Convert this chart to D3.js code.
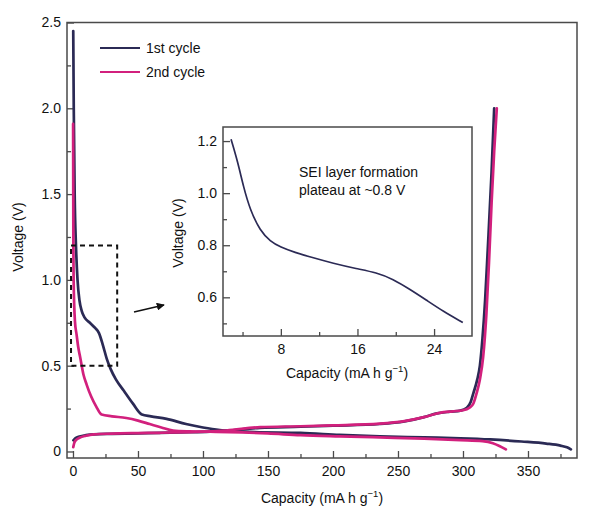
<!DOCTYPE html>
<html>
<head>
<meta charset="utf-8">
<script src="https://cdn.jsdelivr.net/npm/d3@7"></script>
<style>
  body { margin: 0; background: #fff; }
  svg { display: block; font-family: "Liberation Sans", Arial, sans-serif; }
  .tick text { font-size: 14px; fill: #111; }
</style>
</head>
<body>
<div id="chart"></div>
<script>
// ─── Data ───
// 1st cycle, discharge
const cap1Dis = [0.2, 0.6, 1.3, 2.3, 3.5, 5, 6.7, 9, 13, 17, 20, 23, 26, 29, 33, 39, 46, 53, 60, 72, 87, 100, 113, 120, 140, 175, 205, 236, 270, 298, 321, 345, 364, 375, 380, 383];
const volt1Dis = [2.45, 2.0, 1.5, 1.2, 1.0, 0.88, 0.82, 0.78, 0.75, 0.72, 0.69, 0.62, 0.54, 0.48, 0.42, 0.355, 0.28, 0.215, 0.205, 0.19, 0.16, 0.14, 0.125, 0.12, 0.113, 0.108, 0.097, 0.088, 0.082, 0.077, 0.07, 0.058, 0.046, 0.034, 0.024, 0.012];
// 1st cycle, charge
const cap1Chg = [0.3, 2, 5, 10, 16, 30, 50, 67, 90, 118, 144, 175, 200, 236, 255, 270, 280, 290, 298, 303, 306, 308, 311, 313, 315, 317, 319, 322, 324];
const volt1Chg = [0.065, 0.078, 0.087, 0.095, 0.1, 0.103, 0.106, 0.108, 0.112, 0.12, 0.138, 0.144, 0.15, 0.16, 0.175, 0.2, 0.222, 0.232, 0.238, 0.255, 0.29, 0.34, 0.42, 0.5, 0.66, 0.88, 1.17, 1.63, 2.0];
// 2nd cycle, discharge
const cap2Dis = [0.1, 0.3, 0.5, 1.5, 2.8, 4, 5.5, 8, 10.5, 14, 18, 22, 30, 41, 50, 59, 68, 77, 90, 105, 120, 150, 175, 205, 236, 270, 298, 315, 323, 328, 333];
const volt2Dis = [1.91, 1.2, 1.0, 0.76, 0.68, 0.61, 0.55, 0.45, 0.39, 0.32, 0.26, 0.215, 0.205, 0.195, 0.18, 0.16, 0.14, 0.122, 0.117, 0.115, 0.113, 0.105, 0.095, 0.088, 0.082, 0.075, 0.066, 0.06, 0.048, 0.032, 0.012];
// 2nd cycle, charge
const cap2Chg = [0.2, 1, 2.5, 5, 10, 16, 30, 50, 67, 90, 118, 144, 175, 200, 236, 255, 270, 282, 292, 300, 305, 308, 310.5, 313, 315.5, 318, 320, 322, 324, 326];
const volt2Chg = [0.025, 0.05, 0.068, 0.08, 0.092, 0.1, 0.104, 0.107, 0.109, 0.113, 0.122, 0.142, 0.147, 0.152, 0.162, 0.177, 0.2, 0.225, 0.234, 0.24, 0.255, 0.28, 0.34, 0.42, 0.55, 0.8, 1.1, 1.45, 1.75, 2.0];
// Inset: magnified 1st-cycle discharge
const capInset = [2.8, 3.5, 4.1, 4.8, 5.85, 6.9, 7.94, 9.5, 11.06, 13.5, 15.9, 18, 19.7, 21.5, 23.2, 25, 27.0];
const voltInset = [1.207, 1.12, 1.024, 0.935, 0.855, 0.815, 0.793, 0.772, 0.755, 0.73, 0.71, 0.695, 0.67, 0.63, 0.589, 0.545, 0.503];

const capTicks = [0, 50, 100, 150, 200, 250, 300, 350];
const voltTicks = [0, 0.5, 1.0, 1.5, 2.0, 2.5];
const insetCapTicks = [8, 16, 24];
const insetVoltTicks = [0.6, 0.8, 1.0, 1.2];
const zoomBox = { cap: [-1.5, 34], volt: [0.5, 1.2] };

const COLOR_1 = "#2b2a55";
const COLOR_2 = "#d2207d";
const AXIS_COLOR = "#4a4a4a";

const width = 600, height = 515;
const svg = d3.select("#chart").append("svg").attr("width", width).attr("height", height);

function zip(xs, ys) { return xs.map((x, i) => [x, ys[i]]); }

// ─── Axis helper: inward ticks + full frame ───
function drawFrame(g, x, y, xTicks, yTicks, xMinor, yMinor, yFmt) {
  const [x0, x1] = x.range();
  const [y0, y1] = y.range();
  g.append("g")
    .attr("transform", `translate(0,${y0})`)
    .call(d3.axisBottom(x).tickValues(xMinor).tickSize(-4).tickSizeOuter(0).tickFormat(""))
    .call((a) => a.select(".domain").remove());
  g.append("g")
    .attr("transform", `translate(0,${y0})`)
    .call(d3.axisBottom(x).tickValues(xTicks).tickSize(-7).tickSizeOuter(0).tickPadding(8))
    .call((a) => a.select(".domain").remove());
  g.append("g")
    .attr("transform", `translate(${x0},0)`)
    .call(d3.axisLeft(y).tickValues(yMinor).tickSize(-4).tickSizeOuter(0).tickFormat(""))
    .call((a) => a.select(".domain").remove());
  g.append("g")
    .attr("transform", `translate(${x0},0)`)
    .call(d3.axisLeft(y).tickValues(yTicks).tickSize(-7).tickSizeOuter(0).tickPadding(6).tickFormat(yFmt))
    .call((a) => a.select(".domain").remove());
  g.selectAll(".tick line").attr("stroke", AXIS_COLOR).attr("stroke-width", 1.3);
  g.append("rect")
    .attr("x", x0).attr("y", y1)
    .attr("width", x1 - x0).attr("height", y0 - y1)
    .attr("fill", "none").attr("stroke", AXIS_COLOR).attr("stroke-width", 1.5);
}

function capacityLabel(g, cx, cy) {
  const t = g.append("text").attr("x", cx).attr("y", cy)
    .attr("text-anchor", "middle").style("font-size", "14px").attr("fill", "#111");
  t.append("tspan").text("Capacity (mA h g");
  t.append("tspan").attr("dy", -6).style("font-size", "9.5px").text("\u22121");
  t.append("tspan").attr("dy", 6).text(")");
}

function voltageLabel(g, cx, cy) {
  g.append("text")
    .attr("transform", `translate(${cx},${cy}) rotate(-90)`)
    .attr("text-anchor", "middle").style("font-size", "14px").attr("fill", "#111")
    .text("Voltage (V)");
}

// ─── Main panel ───
const x = d3.scaleLinear().domain([-4.6, 387.7]).range([67, 577]);
const y = d3.scaleLinear().domain([-0.038, 2.5]).range([458, 22.5]);

const main = svg.append("g");
drawFrame(main, x, y, capTicks, voltTicks,
  d3.range(25, 400, 50), d3.range(0.25, 2.5, 0.5),
  (d) => (d === 0 ? "0" : d3.format(".1f")(d)));

const line = d3.line().x((d) => x(d[0])).y((d) => y(d[1])).curve(d3.curveMonotoneX);

const curves = [
  { data: zip(cap1Dis, volt1Dis), color: COLOR_1 },
  { data: zip(cap1Chg, volt1Chg), color: COLOR_1 },
  { data: zip(cap2Dis, volt2Dis), color: COLOR_2 },
  { data: zip(cap2Chg, volt2Chg), color: COLOR_2 },
];
main.selectAll("path.curve")
  .data(curves)
  .join("path")
  .attr("class", "curve")
  .attr("d", (d) => line(d.data))
  .attr("fill", "none")
  .attr("stroke", (d) => d.color)
  .attr("stroke-width", 2.7)
  .attr("stroke-linejoin", "round")
  .attr("stroke-linecap", "round");

// Dashed zoom region
main.append("rect")
  .attr("x", x(zoomBox.cap[0])).attr("y", y(zoomBox.volt[1]))
  .attr("width", x(zoomBox.cap[1]) - x(zoomBox.cap[0]))
  .attr("height", y(zoomBox.volt[0]) - y(zoomBox.volt[1]))
  .attr("fill", "none").attr("stroke", "#111")
  .attr("stroke-width", 2).attr("stroke-dasharray", "5,4");

// Arrow to inset
svg.append("defs").append("marker")
  .attr("id", "arrow").attr("viewBox", "0 0 10 10")
  .attr("refX", 9).attr("refY", 5)
  .attr("markerWidth", 5).attr("markerHeight", 5)
  .attr("orient", "auto")
  .append("path").attr("d", "M0,0 L10,5 L0,10 Z").attr("fill", "#111");
main.append("line")
  .attr("x1", 134).attr("y1", 312).attr("x2", 164).attr("y2", 305)
  .attr("stroke", "#111").attr("stroke-width", 1.6)
  .attr("marker-end", "url(#arrow)");

capacityLabel(main, 322, 503);
voltageLabel(main, 23, 237);

// Legend
const legend = main.append("g").attr("transform", "translate(100,48)");
[["1st cycle", COLOR_1], ["2nd cycle", COLOR_2]].forEach(([name, c], i) => {
  const row = legend.append("g").attr("transform", `translate(0,${i * 24})`);
  row.append("line").attr("x1", 0).attr("x2", 40).attr("stroke", c).attr("stroke-width", 2.2);
  row.append("text").attr("x", 46).attr("y", 5)
    .style("font-size", "14px").attr("fill", "#111").text(name);
});

// ─── Inset ───
const xi = d3.scaleLinear().domain([1.96, 27.96]).range([223, 472]);
const yi = d3.scaleLinear().domain([0.4515, 1.254]).range([336, 127]);

const inset = svg.append("g");
inset.append("rect")
  .attr("x", 223).attr("y", 127).attr("width", 249).attr("height", 209)
  .attr("fill", "#fff");
drawFrame(inset, xi, yi, insetCapTicks, insetVoltTicks,
  [4, 12, 20], [0.5, 0.7, 0.9, 1.1], d3.format(".1f"));

inset.append("path")
  .datum(zip(capInset, voltInset))
  .attr("d", d3.line().x((d) => xi(d[0])).y((d) => yi(d[1])).curve(d3.curveBasis))
  .attr("fill", "none").attr("stroke", COLOR_1).attr("stroke-width", 1.7);

inset.append("text").attr("x", 299).attr("y", 177)
  .style("font-size", "14px").attr("fill", "#111").text("SEI layer formation");
inset.append("text").attr("x", 299).attr("y", 195)
  .style("font-size", "14px").attr("fill", "#111").text("plateau at ~0.8 V");

capacityLabel(inset, 347, 378);
voltageLabel(inset, 183, 233);
</script>
</body>
</html>
